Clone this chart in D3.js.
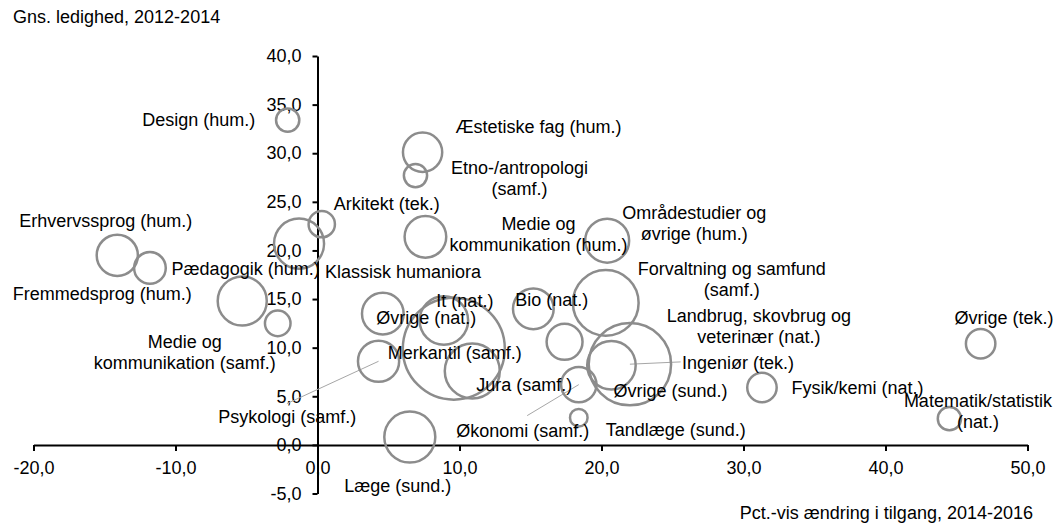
<!DOCTYPE html>
<html>
<head>
<meta charset="utf-8">
<script src="https://cdn.jsdelivr.net/npm/d3@7"></script>
<style>
  html, body { margin: 0; padding: 0; background: #fff; }
  svg { display: block; }
  text { font-family: "Liberation Sans", Arial, sans-serif; fill: #000; }
</style>
</head>
<body>
<svg id="chart" width="1063" height="526"></svg>
<script>
// ---------- DATA ----------
const categories = [
  "Design (hum.)",
  "Erhvervssprog (hum.)",
  "Pædagogik (hum.)",
  "Fremmedsprog (hum.)",
  "Medie og\nkommunikation (samf.)",
  "Klassisk humaniora",
  "Arkitekt (tek.)",
  "Æstetiske fag (hum.)",
  "Etno-/antropologi\n(samf.)",
  "Medie og\nkommunikation (hum.)",
  "Områdestudier og\nøvrige (hum.)",
  "Forvaltning og samfund\n(samf.)",
  "Ingeniør (tek.)",
  "Øvrige (sund.)",
  "Landbrug, skovbrug og\nveterinær (nat.)",
  "Økonomi (samf.)",
  "Tandlæge (sund.)",
  "Jura (samf.)",
  "Psykologi (samf.)",
  "Merkantil (samf.)",
  "It (nat.)",
  "Øvrige (nat.)",
  "Bio (nat.)",
  "Læge (sund.)",
  "Fysik/kemi (nat.)",
  "Matematik/statistik\n(nat.)",
  "Øvrige (tek.)"
];
// Pct.-vis ændring i tilgang, 2014-2016
const changeIntake = [-2.1, -14.1, -11.8, -5.3, -2.8, -1.3, 0.3, 7.4, 6.9, 7.6, 20.4, 20.3, 22.0, 20.7, 17.4, 18.4, 18.4, 10.9, 4.3, 9.6, 8.9, 4.6, 15.2, 6.5, 31.3, 44.5, 46.7];
// Gns. ledighed, 2012-2014
const unemployment = [33.4, 19.5, 18.2, 14.8, 12.5, 20.7, 22.7, 30.1, 27.7, 21.4, 21.0, 14.6, 8.3, 8.2, 10.6, 6.2, 2.8, 7.6, 8.6, 9.9, 12.8, 13.5, 14.0, 0.8, 5.9, 2.7, 10.4];
// bubble size (estimated)
const bubbleSize = [140, 440, 260, 625, 170, 650, 180, 400, 140, 450, 500, 1120, 1760, 610, 335, 325, 80, 785, 440, 2700, 610, 450, 430, 675, 225, 140, 225];

const xTicks = [-20, -10, 0, 10, 20, 30, 40, 50];
const yTicks = [-5, 0, 5, 10, 15, 20, 25, 30, 35, 40];
const yTitle = "Gns. ledighed, 2012-2014";
const xTitle = "Pct.-vis ændring i tilgang, 2014-2016";

// ---------- LAYOUT (label offsets in px from bubble centre) ----------
const labelOffsets = [
  [-89, 0], [-11.5, -35], [95.7, 1], [-140, -7.7], [-93, 18], [104, 28.4], [65, -20],
  [116, -25.6], [104, -8.3], [113, -13.4], [87, -28.4], [126, -34.4], [108, -1.3],
  [59, 25.5], [194.3, -26], [-56, 46], [97, 11.6], [52, 14], [-91.3, 55], [1, 4.4],
  [21, -19.3], [43.4, 4], [18.5, -9], [-12, 49], [95.5, 0], [28.5, -17.6], [23.3, -26]
];
// leader lines: index -> [dx, dy] of far end from bubble centre
const leaders = { 18: [-91.6, 42.3], 15: [-51.6, 31], 12: [50.7, -2.3] };

const FONT = 18;
const LINE_H = 21;

const svg = d3.select("#chart");
const x = d3.scaleLinear().domain([-20, 50]).range([33.5, 1027.5]);
const y = d3.scaleLinear().domain([-5, 40]).range([493.5, 56]);
const r = d3.scaleSqrt().domain([0, 2700]).range([0, 51]);

const locale = d3.formatLocale({ decimal: ",", thousands: ".", grouping: [3], currency: ["", " kr"], minus: "-" });
const fmt = locale.format(".1f");

// axes
const xAxis = svg.append("g")
  .attr("transform", `translate(0,${y(0)})`)
  .call(d3.axisBottom(x).tickValues(xTicks).tickFormat(fmt).tickSize(6).tickSizeOuter(0).tickPadding(10));
const yAxis = svg.append("g")
  .attr("transform", `translate(${x(0)},0)`)
  .call(d3.axisLeft(y).tickValues(yTicks).tickFormat(fmt).tickSize(5).tickSizeOuter(0).tickPadding(11));

[xAxis, yAxis].forEach(g => {
  g.selectAll("path.domain").attr("stroke", "#000").attr("stroke-width", 2);
  g.selectAll(".tick line").attr("stroke", "#000").attr("stroke-width", 2);
  g.selectAll(".tick text")
    .style("font-family", '"Liberation Sans", Arial, sans-serif')
    .style("font-size", FONT + "px")
    .attr("fill", "#000");
  g.attr("font-family", null).attr("font-size", null);
});

const data = categories.map((c, i) => ({
  name: c, xv: changeIntake[i], yv: unemployment[i], s: bubbleSize[i], i
}));

// leader lines
svg.append("g").selectAll("line")
  .data(data.filter(d => leaders[d.i]))
  .join("line")
  .attr("x1", d => x(d.xv))
  .attr("y1", d => y(d.yv))
  .attr("x2", d => x(d.xv) + leaders[d.i][0])
  .attr("y2", d => y(d.yv) + leaders[d.i][1])
  .attr("stroke", "#a6a6a6")
  .attr("stroke-width", 1);

// bubbles
svg.append("g").selectAll("circle")
  .data(data)
  .join("circle")
  .attr("cx", d => x(d.xv))
  .attr("cy", d => y(d.yv))
  .attr("r", d => r(d.s))
  .attr("fill", "none")
  .attr("stroke", "#8c8c8c")
  .attr("stroke-width", 2.5);

// labels
const labels = svg.append("g").selectAll("text")
  .data(data)
  .join("text")
  .attr("text-anchor", "middle")
  .style("font-size", FONT + "px")
  .attr("x", d => x(d.xv) + labelOffsets[d.i][0])
  .attr("y", d => y(d.yv) + labelOffsets[d.i][1]);
labels.each(function(d) {
  const t = d3.select(this);
  d.name.split("\n").forEach((line, k) => {
    t.append("tspan")
      .attr("x", x(d.xv) + labelOffsets[d.i][0])
      .attr("dy", k === 0 ? "0.35em" : LINE_H + "px")
      .text(line);
  });
});

// axis titles
svg.append("text").attr("x", 13).attr("y", 23).style("font-size", FONT + "px").text(yTitle);
svg.append("text").attr("x", 1033).attr("y", 519).attr("text-anchor", "end").style("font-size", FONT + "px").text(xTitle);
</script>
</body>
</html>
